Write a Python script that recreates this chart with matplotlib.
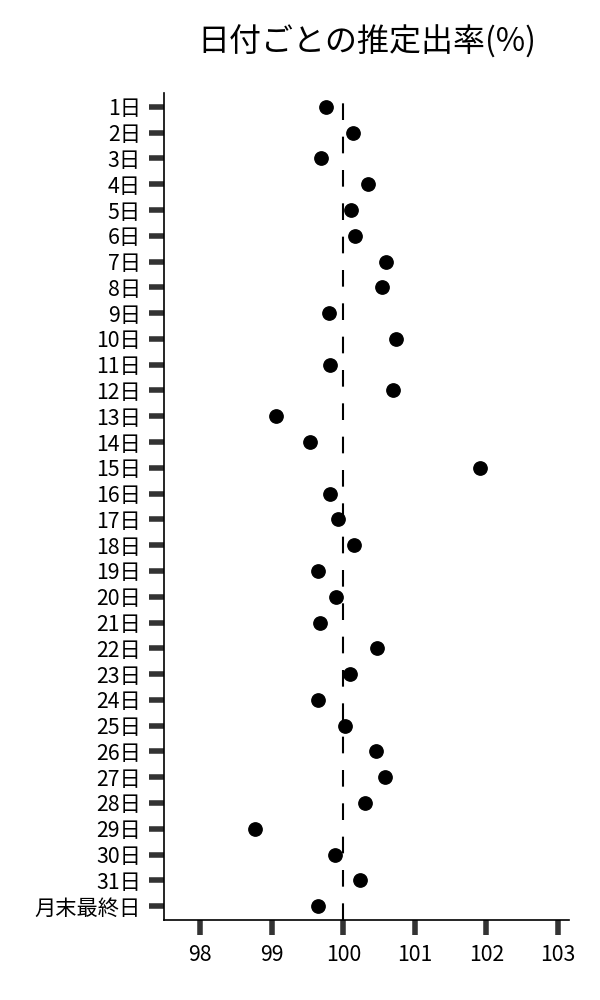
import numpy as np
import matplotlib
matplotlib.use('Agg')
import matplotlib.pyplot as plt

plt.rcParams['font.family'] = ['Noto Sans CJK JP', 'DejaVu Sans']

# 日付ラベルと推定出率
days = [f'{d}日' for d in range(1, 32)] + ['月末最終日']
rates = [99.76, 100.14, 99.69, 100.34, 100.11, 100.17, 100.60, 100.54,
         99.80, 100.73, 99.82, 100.70, 99.06, 99.53, 101.91, 99.82,
         99.92, 100.15, 99.65, 99.90, 99.68, 100.47, 100.09, 99.65,
         100.03, 100.46, 100.58, 100.31, 98.77, 99.89, 100.23, 99.65]
ref_value = 100
xticks = [98, 99, 100, 101, 102, 103]

fig = plt.figure(figsize=(6, 10), dpi=100)
ax = fig.add_axes([0.274, 0.08, 0.675, 0.827])

y = np.arange(len(days))
ax.axvline(ref_value, color='black', lw=1.5, dashes=(8, 8), zorder=1)
ax.plot(rates, y, 'o', color='black', markersize=9.6, zorder=2)

ax.set_yticks(y)
ax.set_yticklabels(days)
ax.set_ylim(len(days) - 0.46, -0.54)
ax.set_xticks(xticks)
ax.set_xlim(97.5, 103.16)

for side in ['top', 'right']:
    ax.spines[side].set_visible(False)
for side in ['left', 'bottom']:
    ax.spines[side].set_linewidth(1.2)

ax.tick_params(axis='both', length=11, width=4, color='#333333',
               labelsize=15.3, labelcolor='black')
ax.tick_params(axis='y', pad=6)
ax.tick_params(axis='x', pad=6)

ax.set_title('日付ごとの推定出率(%)', fontsize=23, pad=30)

fig.savefig('out.png')
